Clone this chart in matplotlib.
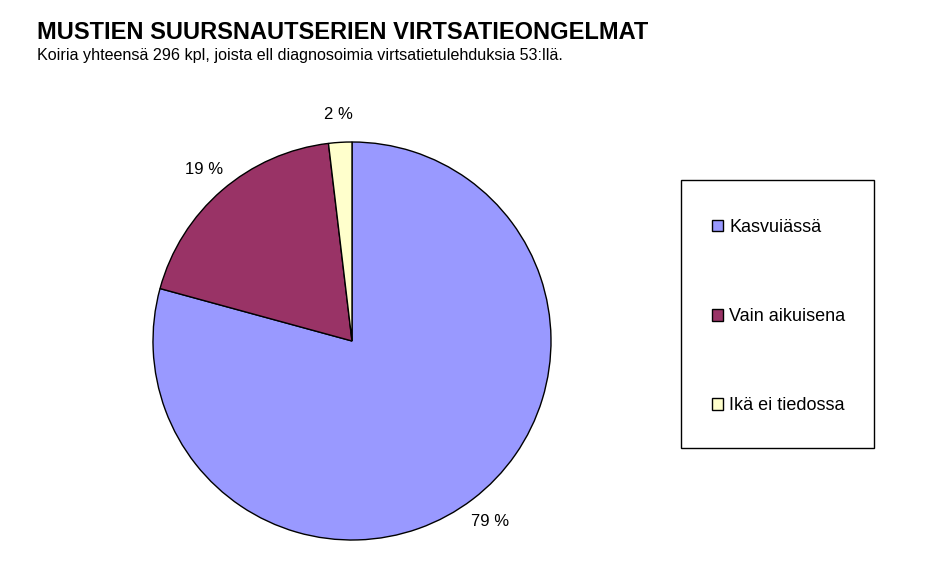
import matplotlib.pyplot as plt
from matplotlib.patches import Rectangle

plt.rcParams['font.family'] = ['Liberation Sans', 'DejaVu Sans']

# koirat, joilla virtsatietulehdus (53 kpl)
categories = ['Kasvuiässä', 'Vain aikuisena', 'Ikä ei tiedossa']
counts = [42, 10, 1]
colors = ['#9999FF', '#993366', '#FFFFCC']

title = 'MUSTIEN SUURSNAUTSERIEN VIRTSATIEONGELMAT'
subtitle = 'Koiria yhteensä 296 kpl, joista ell diagnosoimia virtsatietulehduksia 53:llä.'

W, H = 939, 567
fig = plt.figure(figsize=(W / 100, H / 100), dpi=100)

# pie axes: centre (352,341), radius ~199 px
ax = fig.add_axes([153 / W, 27 / H, 398 / W, 398 / H])
wedges, texts, autotexts = ax.pie(
    counts, colors=colors, startangle=90, counterclock=False,
    autopct=lambda p: '%d %%' % round(p), pctdistance=1.14,
    wedgeprops=dict(edgecolor='black', linewidth=1.0))
for t in autotexts:
    t.set_fontsize(12)
ax.set_xlim(-1, 1)
ax.set_ylim(-1, 1)
ax.set_aspect('equal')
ax.axis('off')

fig.text(37 / W, 1 - 39 / H, title, fontsize=17, fontweight='bold', va='baseline')
fig.text(37 / W, 1 - 60 / H, subtitle, fontsize=11.6, va='baseline')

# legend box
fig.patches.append(Rectangle((681 / W, 1 - 448 / H), 193 / W, 268 / H,
                             transform=fig.transFigure, facecolor='white',
                             edgecolor='black', linewidth=1.0))
leg = fig.legend(wedges, categories, loc='upper left',
                 bbox_to_anchor=(712 / W, 1 - 219 / H), frameon=False,
                 fontsize=13, handlelength=0.6, handleheight=0.6,
                 handletextpad=0.35, labelspacing=4.0, borderpad=0,
                 borderaxespad=0)

fig.savefig('out.png', dpi=100)
